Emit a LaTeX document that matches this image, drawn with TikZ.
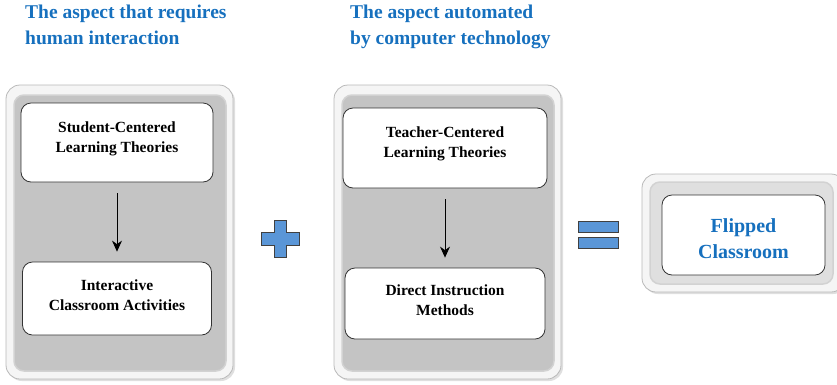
\documentclass[tikz,border=0pt]{standalone}
\usepackage{fontspec}
\setmainfont{Liberation Serif}
\usetikzlibrary{arrows.meta,shadows}
\definecolor{headblue}{RGB}{22,112,190}
\definecolor{signblue}{RGB}{90,150,215}
\definecolor{panelgray}{RGB}{196,196,196}
\begin{document}
\begin{tikzpicture}[x=1pt,y=-1pt,
  heading/.style={anchor=base west,text=headblue,font=\bfseries\fontsize{19.5}{22}\selectfont,align=left,inner sep=0pt},
  frame/.style={rounded corners=14,draw=gray!55,line width=0.8pt,fill=gray!8,
    drop shadow={shadow xshift=2pt,shadow yshift=-2pt,opacity=0.25}},
  well/.style={rounded corners=10,fill=panelgray,draw=gray!35,line width=1.5pt},
  itembox/.style={rounded corners=10,draw=black!80,line width=0.8pt,fill=white,inner sep=0pt},
  itemtext/.style={align=center,font=\bfseries\fontsize{15.5}{20.5}\selectfont},
  flow/.style={-{Stealth[length=11pt,width=10pt]},line width=0.8pt,black,
    shorten <=11pt,shorten >=10pt},
  sign/.style={fill=signblue,draw=black!75,line width=0.8pt}
]
\useasboundingbox (0,0) rectangle (837,384);

% headings
\node[heading] (h1) at (25,18) {The aspect that requires};
\node[heading] (h1b) at (25,44) {human interaction};
\node[heading] (h2) at (350,18) {The aspect automated};
\node[heading] (h2b) at (350,44) {by computer technology};

% left panel
\draw[frame] (6,85) rectangle (233,379);
\draw[well] (14,95) rectangle (226,371);
\node[itembox,minimum width=192pt,minimum height=79pt] (s1) at (117,142.5) {};
\node[itemtext] (s1t) at (117,139) {Student-Centered\\Learning Theories};
\node[itembox,minimum width=189pt,minimum height=73pt] (s2) at (117,298.5) {};
\node[itemtext] (s2t) at (117,295) {Interactive\\Classroom Activities};
\draw[flow] (s1.south) -- (s2.north);

% plus sign
\draw[sign] (274,220) -- (286,220) -- (286,232) -- (299,232) -- (299,245)
  -- (286,245) -- (286,257) -- (274,257) -- (274,245) -- (261,245)
  -- (261,232) -- (274,232) -- cycle;

% middle panel
\draw[frame] (334,85) rectangle (561,379);
\draw[well] (342,95) rectangle (554,371);
\node[itembox,minimum width=204pt,minimum height=80pt] (t1) at (445,148) {};
\node[itemtext] (t1t) at (445,144) {Teacher-Centered\\Learning Theories};
\node[itembox,minimum width=200pt,minimum height=71pt] (t2) at (445,303.5) {};
\node[itemtext] (t2t) at (445,300) {Direct Instruction\\Methods};
\draw[flow] (t1.south) -- (t2.north);

% equals sign
\draw[sign] (578,221) rectangle (618,232);
\draw[sign] (578,237) rectangle (618,248);

% result panel
\draw[frame] (642,174) rectangle (845,292);
\draw[well,fill=gray!25] (650,182) rectangle (833,284);
\node[itembox,minimum width=163pt,minimum height=80pt] (fc) at (743.5,235) {};
\node[align=center,text=headblue,font=\bfseries\fontsize{20}{26}\selectfont] (fct) at (743.5,239)
  {Flipped\\Classroom};
\end{tikzpicture}
\end{document}
